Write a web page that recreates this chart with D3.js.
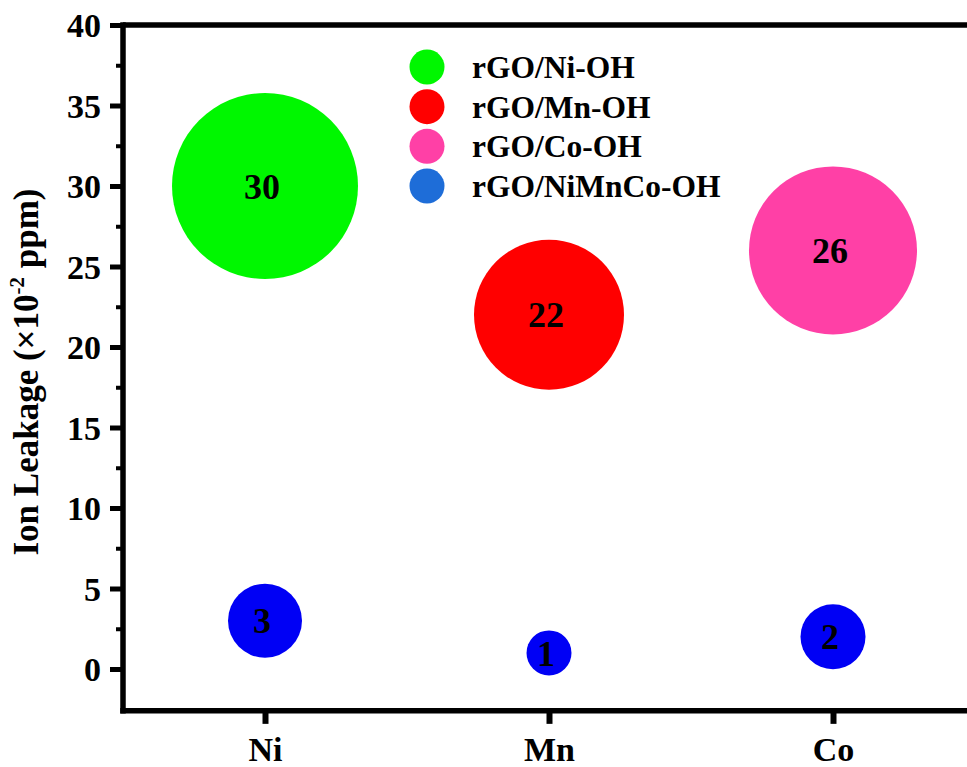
<!DOCTYPE html>
<html>
<head>
<meta charset="utf-8">
<script src="https://cdn.jsdelivr.net/npm/d3@7"></script>
<style>
  html, body { margin: 0; padding: 0; background: #fff; }
  svg { display: block; }
  text { font-family: "Liberation Serif", "Times New Roman", serif; font-weight: bold; fill: #000; }
</style>
</head>
<body>
<svg id="chart" width="967" height="767"></svg>
<script>
// ---- data ----
const categories = ["Ni", "Mn", "Co"];
const singleNames = ["rGO/Ni-OH", "rGO/Mn-OH", "rGO/Co-OH"];
const singleValues = [30, 22, 26];
const singleSizes = [93, 75, 84];          // bubble-size column
const ternaryName = "rGO/NiMnCo-OH";
const ternaryValues = [3, 1, 2];
const ternarySizes = [37, 22.5, 32.5];     // bubble-size column
const yTicks = [0, 5, 10, 15, 20, 25, 30, 35, 40];
const yMinorTicks = [2.5, 7.5, 12.5, 17.5, 22.5, 27.5, 32.5, 37.5];
const legendLabels = ["rGO/Ni-OH", "rGO/Mn-OH", "rGO/Co-OH", "rGO/NiMnCo-OH"];

// ---- styles ----
const singleColors = ["#00F700", "#FF0000", "#FF40A6"];
const ternaryColor = "#0000F5";
const legendColors = ["#00F700", "#FF0000", "#FF40A6", "#1E6DD8"];

const svg = d3.select("#chart");
const mLeft = 123, mRight = 975, mTop = 25, zeroY = 669;

const x = d3.scaleLinear().domain([-0.5, 2.5]).range([mLeft, mRight]);
const y = d3.scaleLinear().domain([0, 40]).range([zeroY, mTop]);
const yBottom = -2.6;
const r = d3.scaleLinear().domain([0, 100]).range([0, 100]);

// ---- axes ----
const axisW = 5.5;
// top frame
svg.append("line").attr("x1", mLeft).attr("x2", 967).attr("y1", y(40)).attr("y2", y(40))
  .attr("stroke", "#000").attr("stroke-width", axisW);

// y axis major
const gy = svg.append("g").attr("transform", `translate(${mLeft},0)`)
  .call(d3.axisLeft(y).tickValues(yTicks).tickSize(13).tickSizeOuter(0).tickPadding(9));
gy.select(".domain").remove();
gy.selectAll(".tick line").attr("stroke", "#000").attr("stroke-width", 5);
gy.selectAll(".tick text").attr("font-size", 34).attr("dy", "0.34em");

// y minor
const gym = svg.append("g").attr("transform", `translate(${mLeft},0)`)
  .call(d3.axisLeft(y).tickValues(yMinorTicks).tickSize(7).tickFormat(""));
gym.select(".domain").remove();
gym.selectAll(".tick line").attr("stroke", "#000").attr("stroke-width", 4);

svg.append("line").attr("x1", mLeft).attr("x2", mLeft).attr("y1", y(40) - axisW/2).attr("y2", y(yBottom) + axisW/2)
  .attr("stroke", "#000").attr("stroke-width", axisW);

// x axis
const gx = svg.append("g").attr("transform", `translate(0,${y(yBottom)})`)
  .call(d3.axisBottom(x).tickValues([0, 1, 2]).tickFormat(i => categories[i]).tickSize(13).tickSizeOuter(0).tickPadding(13));
gx.select(".domain").remove();
gx.selectAll(".tick line").attr("stroke", "#000").attr("stroke-width", 6);
gx.selectAll(".tick text").attr("font-size", 34).attr("dy", "0.71em");
svg.append("line").attr("x1", mLeft - axisW/2).attr("x2", 967).attr("y1", y(yBottom)).attr("y2", y(yBottom))
  .attr("stroke", "#000").attr("stroke-width", axisW);

// y label
svg.append("text")
  .attr("transform", `translate(38,372) rotate(-90)`)
  .attr("text-anchor", "middle")
  .attr("font-size", 35)
  .call(t => {
    t.append("tspan").text("Ion Leakage (×10");
    t.append("tspan").attr("font-size", 21).attr("dy", -14).text("-2");
    t.append("tspan").attr("dy", 14).text(" ppm)");
  });

// ---- bubbles ----
const singles = categories.map((c, i) => ({ i, v: singleValues[i], s: singleSizes[i], color: singleColors[i] }));
const ternary = categories.map((c, i) => ({ i, v: ternaryValues[i], s: ternarySizes[i], color: ternaryColor }));

[singles, ternary].forEach(data => {
  const g = svg.append("g");
  g.selectAll("circle").data(data).join("circle")
    .attr("cx", d => x(d.i)).attr("cy", d => y(d.v)).attr("r", d => r(d.s))
    .attr("fill", d => d.color);
  g.selectAll("text").data(data).join("text")
    .attr("x", d => x(d.i) - 3).attr("y", d => y(d.v))
    .attr("text-anchor", "middle").attr("dy", "0.35em")
    .attr("font-size", 36)
    .text(d => d.v);
});

// ---- legend ----
const lg = svg.append("g");
const legendY = d3.scalePoint().domain(legendLabels).range([67, 186]);
legendLabels.forEach((lab, k) => {
  lg.append("circle").attr("cx", 427).attr("cy", legendY(lab)).attr("r", 17.5).attr("fill", legendColors[k]);
  lg.append("text").attr("x", 472).attr("y", legendY(lab)).attr("dy", "0.35em")
    .attr("font-size", 31.5).text(lab);
});
</script>
</body>
</html>
